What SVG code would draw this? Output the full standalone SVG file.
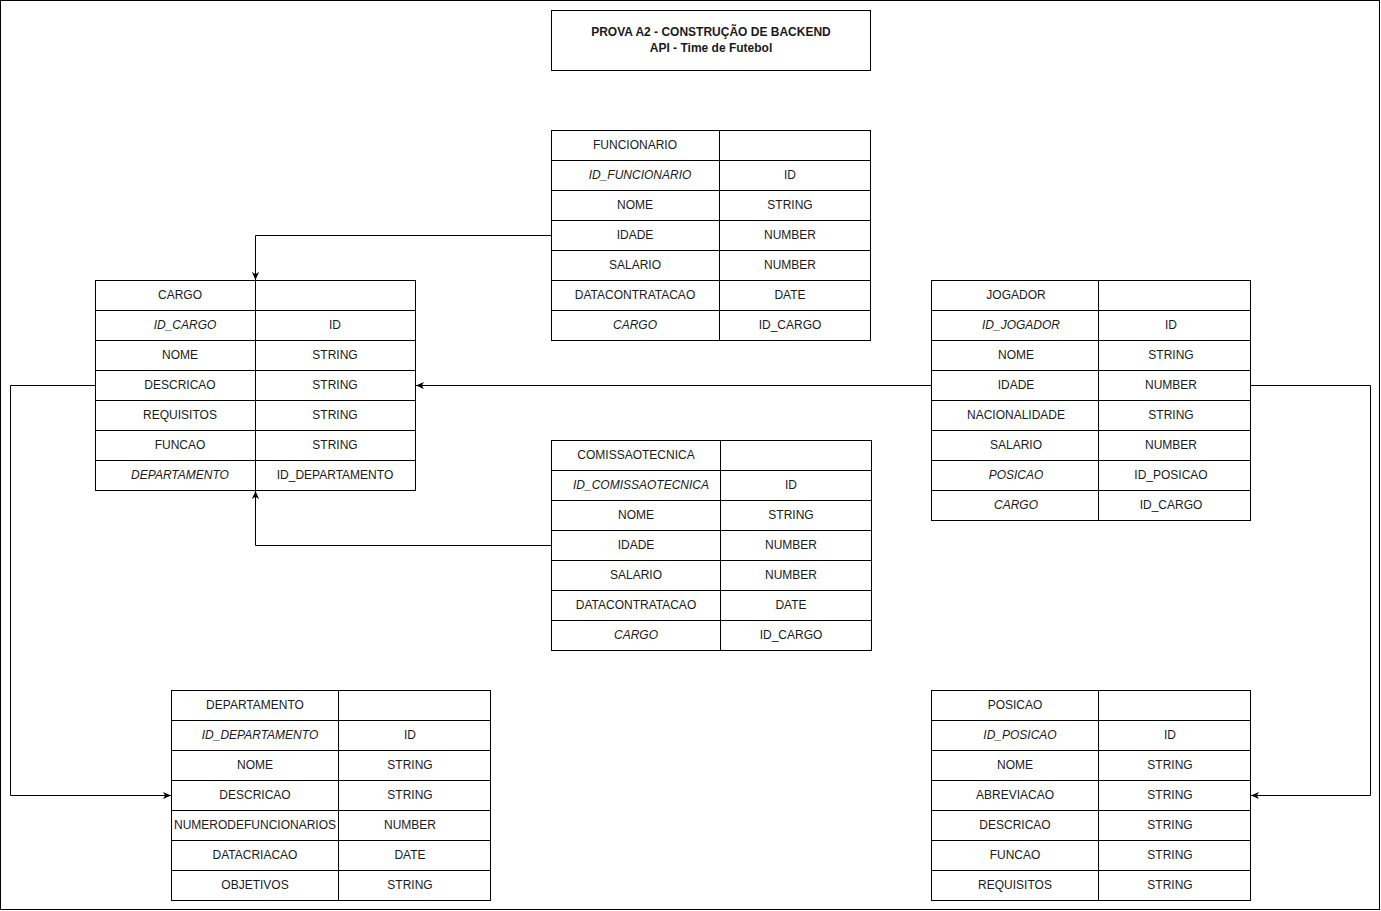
<svg xmlns="http://www.w3.org/2000/svg" width="1381" height="911" viewBox="0 0 1381 911">
<defs>
<marker id="arr" viewBox="0 0 10 10" refX="9" refY="5" markerWidth="9" markerHeight="9" markerUnits="userSpaceOnUse" orient="auto">
<path d="M0,1 L9,5 L0,9 L2.5,5 Z" fill="#000"/>
</marker>
<style>
.cell{fill:#fff;stroke:#000;stroke-width:1}
.t{font-family:"Liberation Sans",Arial,sans-serif;font-size:12px;fill:#1a1a1a;text-anchor:middle;dominant-baseline:central}
.i{font-style:italic}
.b{font-weight:bold}
.c{fill:none;stroke:#000;stroke-width:1}
</style>
</defs>
<rect x="0.5" y="0.5" width="1379" height="909" fill="#fff" stroke="#000"/>

<g id="title">
<rect class="cell" x="551.5" y="10.5" width="319" height="60"/>
<text class="t b" x="711" y="32">PROVA A2 - CONSTRUÇÃO DE BACKEND</text>
<text class="t b" x="711" y="48">API - Time de Futebol</text>
</g>

<g id="funcionario">
<rect class="cell" x="551.5" y="130.5" width="168" height="30"/><rect class="cell" x="719.5" y="130.5" width="151" height="30"/>
<rect class="cell" x="551.5" y="160.5" width="168" height="30"/><rect class="cell" x="719.5" y="160.5" width="151" height="30"/>
<rect class="cell" x="551.5" y="190.5" width="168" height="30"/><rect class="cell" x="719.5" y="190.5" width="151" height="30"/>
<rect class="cell" x="551.5" y="220.5" width="168" height="30"/><rect class="cell" x="719.5" y="220.5" width="151" height="30"/>
<rect class="cell" x="551.5" y="250.5" width="168" height="30"/><rect class="cell" x="719.5" y="250.5" width="151" height="30"/>
<rect class="cell" x="551.5" y="280.5" width="168" height="30"/><rect class="cell" x="719.5" y="280.5" width="151" height="30"/>
<rect class="cell" x="551.5" y="310.5" width="168" height="30"/><rect class="cell" x="719.5" y="310.5" width="151" height="30"/>
<text class="t" x="635" y="145">FUNCIONARIO</text>
<text class="t i" x="640" y="175">ID_FUNCIONARIO</text><text class="t" x="790" y="175">ID</text>
<text class="t" x="635" y="205">NOME</text><text class="t" x="790" y="205">STRING</text>
<text class="t" x="635" y="235">IDADE</text><text class="t" x="790" y="235">NUMBER</text>
<text class="t" x="635" y="265">SALARIO</text><text class="t" x="790" y="265">NUMBER</text>
<text class="t" x="635" y="295">DATACONTRATACAO</text><text class="t" x="790" y="295">DATE</text>
<text class="t i" x="635" y="325">CARGO</text><text class="t" x="790" y="325">ID_CARGO</text>
</g>

<g id="cargo">
<rect class="cell" x="95.5" y="280.5" width="160" height="30"/><rect class="cell" x="255.5" y="280.5" width="160" height="30"/>
<rect class="cell" x="95.5" y="310.5" width="160" height="30"/><rect class="cell" x="255.5" y="310.5" width="160" height="30"/>
<rect class="cell" x="95.5" y="340.5" width="160" height="30"/><rect class="cell" x="255.5" y="340.5" width="160" height="30"/>
<rect class="cell" x="95.5" y="370.5" width="160" height="30"/><rect class="cell" x="255.5" y="370.5" width="160" height="30"/>
<rect class="cell" x="95.5" y="400.5" width="160" height="30"/><rect class="cell" x="255.5" y="400.5" width="160" height="30"/>
<rect class="cell" x="95.5" y="430.5" width="160" height="30"/><rect class="cell" x="255.5" y="430.5" width="160" height="30"/>
<rect class="cell" x="95.5" y="460.5" width="160" height="30"/><rect class="cell" x="255.5" y="460.5" width="160" height="30"/>
<text class="t" x="180" y="295">CARGO</text>
<text class="t i" x="185" y="325">ID_CARGO</text><text class="t" x="335" y="325">ID</text>
<text class="t" x="180" y="355">NOME</text><text class="t" x="335" y="355">STRING</text>
<text class="t" x="180" y="385">DESCRICAO</text><text class="t" x="335" y="385">STRING</text>
<text class="t" x="180" y="415">REQUISITOS</text><text class="t" x="335" y="415">STRING</text>
<text class="t" x="180" y="445">FUNCAO</text><text class="t" x="335" y="445">STRING</text>
<text class="t i" x="180" y="475">DEPARTAMENTO</text><text class="t" x="335" y="475">ID_DEPARTAMENTO</text>
</g>

<g id="comissaotecnica">
<rect class="cell" x="551.5" y="440.5" width="169" height="30"/><rect class="cell" x="720.5" y="440.5" width="151" height="30"/>
<rect class="cell" x="551.5" y="470.5" width="169" height="30"/><rect class="cell" x="720.5" y="470.5" width="151" height="30"/>
<rect class="cell" x="551.5" y="500.5" width="169" height="30"/><rect class="cell" x="720.5" y="500.5" width="151" height="30"/>
<rect class="cell" x="551.5" y="530.5" width="169" height="30"/><rect class="cell" x="720.5" y="530.5" width="151" height="30"/>
<rect class="cell" x="551.5" y="560.5" width="169" height="30"/><rect class="cell" x="720.5" y="560.5" width="151" height="30"/>
<rect class="cell" x="551.5" y="590.5" width="169" height="30"/><rect class="cell" x="720.5" y="590.5" width="151" height="30"/>
<rect class="cell" x="551.5" y="620.5" width="169" height="30"/><rect class="cell" x="720.5" y="620.5" width="151" height="30"/>
<text class="t" x="636" y="455">COMISSAOTECNICA</text>
<text class="t i" x="641" y="485">ID_COMISSAOTECNICA</text><text class="t" x="791" y="485">ID</text>
<text class="t" x="636" y="515">NOME</text><text class="t" x="791" y="515">STRING</text>
<text class="t" x="636" y="545">IDADE</text><text class="t" x="791" y="545">NUMBER</text>
<text class="t" x="636" y="575">SALARIO</text><text class="t" x="791" y="575">NUMBER</text>
<text class="t" x="636" y="605">DATACONTRATACAO</text><text class="t" x="791" y="605">DATE</text>
<text class="t i" x="636" y="635">CARGO</text><text class="t" x="791" y="635">ID_CARGO</text>
</g>

<g id="jogador">
<rect class="cell" x="931.5" y="280.5" width="167" height="30"/><rect class="cell" x="1098.5" y="280.5" width="152" height="30"/>
<rect class="cell" x="931.5" y="310.5" width="167" height="30"/><rect class="cell" x="1098.5" y="310.5" width="152" height="30"/>
<rect class="cell" x="931.5" y="340.5" width="167" height="30"/><rect class="cell" x="1098.5" y="340.5" width="152" height="30"/>
<rect class="cell" x="931.5" y="370.5" width="167" height="30"/><rect class="cell" x="1098.5" y="370.5" width="152" height="30"/>
<rect class="cell" x="931.5" y="400.5" width="167" height="30"/><rect class="cell" x="1098.5" y="400.5" width="152" height="30"/>
<rect class="cell" x="931.5" y="430.5" width="167" height="30"/><rect class="cell" x="1098.5" y="430.5" width="152" height="30"/>
<rect class="cell" x="931.5" y="460.5" width="167" height="30"/><rect class="cell" x="1098.5" y="460.5" width="152" height="30"/>
<rect class="cell" x="931.5" y="490.5" width="167" height="30"/><rect class="cell" x="1098.5" y="490.5" width="152" height="30"/>
<text class="t" x="1016" y="295">JOGADOR</text>
<text class="t i" x="1021" y="325">ID_JOGADOR</text><text class="t" x="1171" y="325">ID</text>
<text class="t" x="1016" y="355">NOME</text><text class="t" x="1171" y="355">STRING</text>
<text class="t" x="1016" y="385">IDADE</text><text class="t" x="1171" y="385">NUMBER</text>
<text class="t" x="1016" y="415">NACIONALIDADE</text><text class="t" x="1171" y="415">STRING</text>
<text class="t" x="1016" y="445">SALARIO</text><text class="t" x="1171" y="445">NUMBER</text>
<text class="t i" x="1016" y="475">POSICAO</text><text class="t" x="1171" y="475">ID_POSICAO</text>
<text class="t i" x="1016" y="505">CARGO</text><text class="t" x="1171" y="505">ID_CARGO</text>
</g>

<g id="departamento">
<rect class="cell" x="171.5" y="690.5" width="167" height="30"/><rect class="cell" x="338.5" y="690.5" width="152" height="30"/>
<rect class="cell" x="171.5" y="720.5" width="167" height="30"/><rect class="cell" x="338.5" y="720.5" width="152" height="30"/>
<rect class="cell" x="171.5" y="750.5" width="167" height="30"/><rect class="cell" x="338.5" y="750.5" width="152" height="30"/>
<rect class="cell" x="171.5" y="780.5" width="167" height="30"/><rect class="cell" x="338.5" y="780.5" width="152" height="30"/>
<rect class="cell" x="171.5" y="810.5" width="167" height="30"/><rect class="cell" x="338.5" y="810.5" width="152" height="30"/>
<rect class="cell" x="171.5" y="840.5" width="167" height="30"/><rect class="cell" x="338.5" y="840.5" width="152" height="30"/>
<rect class="cell" x="171.5" y="870.5" width="167" height="30"/><rect class="cell" x="338.5" y="870.5" width="152" height="30"/>
<text class="t" x="255" y="705">DEPARTAMENTO</text>
<text class="t i" x="260" y="735">ID_DEPARTAMENTO</text><text class="t" x="410" y="735">ID</text>
<text class="t" x="255" y="765">NOME</text><text class="t" x="410" y="765">STRING</text>
<text class="t" x="255" y="795">DESCRICAO</text><text class="t" x="410" y="795">STRING</text>
<text class="t" x="255" y="825">NUMERODEFUNCIONARIOS</text><text class="t" x="410" y="825">NUMBER</text>
<text class="t" x="255" y="855">DATACRIACAO</text><text class="t" x="410" y="855">DATE</text>
<text class="t" x="255" y="885">OBJETIVOS</text><text class="t" x="410" y="885">STRING</text>
</g>

<g id="posicao">
<rect class="cell" x="931.5" y="690.5" width="167" height="30"/><rect class="cell" x="1098.5" y="690.5" width="152" height="30"/>
<rect class="cell" x="931.5" y="720.5" width="167" height="30"/><rect class="cell" x="1098.5" y="720.5" width="152" height="30"/>
<rect class="cell" x="931.5" y="750.5" width="167" height="30"/><rect class="cell" x="1098.5" y="750.5" width="152" height="30"/>
<rect class="cell" x="931.5" y="780.5" width="167" height="30"/><rect class="cell" x="1098.5" y="780.5" width="152" height="30"/>
<rect class="cell" x="931.5" y="810.5" width="167" height="30"/><rect class="cell" x="1098.5" y="810.5" width="152" height="30"/>
<rect class="cell" x="931.5" y="840.5" width="167" height="30"/><rect class="cell" x="1098.5" y="840.5" width="152" height="30"/>
<rect class="cell" x="931.5" y="870.5" width="167" height="30"/><rect class="cell" x="1098.5" y="870.5" width="152" height="30"/>
<text class="t" x="1015" y="705">POSICAO</text>
<text class="t i" x="1020" y="735">ID_POSICAO</text><text class="t" x="1170" y="735">ID</text>
<text class="t" x="1015" y="765">NOME</text><text class="t" x="1170" y="765">STRING</text>
<text class="t" x="1015" y="795">ABREVIACAO</text><text class="t" x="1170" y="795">STRING</text>
<text class="t" x="1015" y="825">DESCRICAO</text><text class="t" x="1170" y="825">STRING</text>
<text class="t" x="1015" y="855">FUNCAO</text><text class="t" x="1170" y="855">STRING</text>
<text class="t" x="1015" y="885">REQUISITOS</text><text class="t" x="1170" y="885">STRING</text>
</g>

<g id="connectors">
<path class="c" d="M551,235.5 H255.5 V280" marker-end="url(#arr)"/>
<path class="c" d="M551,545.5 H255.5 V491" marker-end="url(#arr)"/>
<path class="c" d="M931,385.5 H416" marker-end="url(#arr)"/>
<path class="c" d="M95,385.5 H10.5 V795.5 H171" marker-end="url(#arr)"/>
<path class="c" d="M1251,385.5 H1370.5 V795.5 H1251" marker-end="url(#arr)"/>
</g>
</svg>
